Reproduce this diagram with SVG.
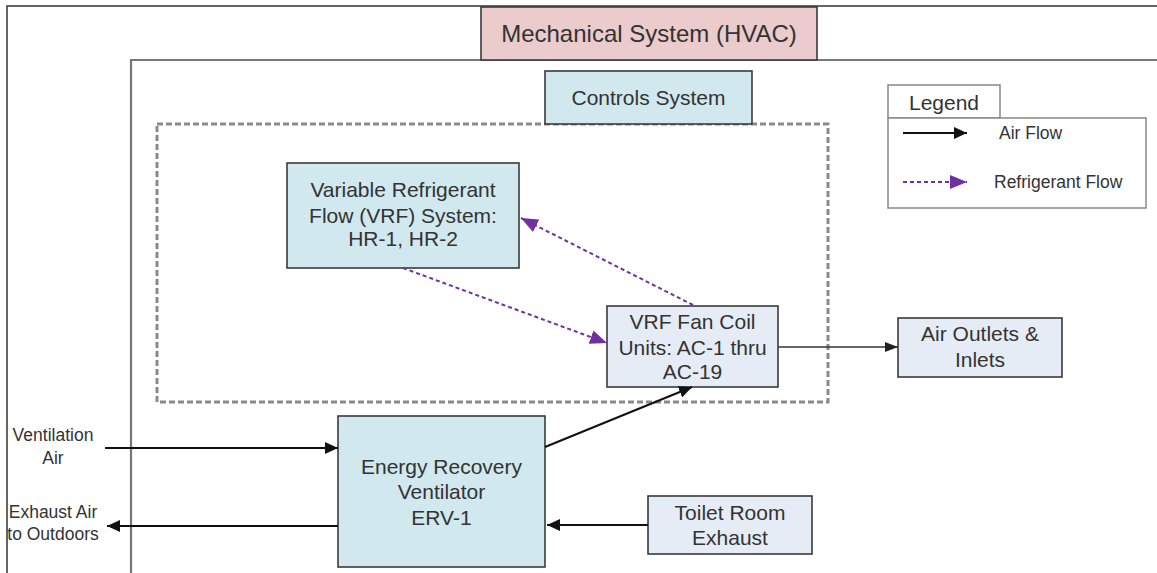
<svg xmlns="http://www.w3.org/2000/svg" width="1157" height="573" viewBox="0 0 1157 573">
<style>
text{font-family:"Liberation Sans",Arial,sans-serif;fill:#333;}
.t21{font-size:21px;text-anchor:middle;}
.t24{font-size:24px;text-anchor:middle;}
.t17{font-size:17.5px;text-anchor:middle;}
.box{stroke:#3a3a3a;stroke-width:1.6;}
.cyan{fill:#D0E8EE;}
.lav{fill:#E6ECF6;}
.pink{fill:#EBCBCB;}
.air{stroke:#111;stroke-width:2;fill:none;}
.ref{stroke:#7030A0;stroke-width:2;stroke-dasharray:4 3;fill:none;}
</style>
<defs>
<marker id="ah" markerUnits="userSpaceOnUse" markerWidth="14" markerHeight="12" refX="13" refY="6" orient="auto"><path d="M0,0 L13,6 L0,12 Z" fill="#111"/></marker>
<marker id="ahs" markerUnits="userSpaceOnUse" markerWidth="14" markerHeight="12" refX="13" refY="6" orient="auto"><path d="M0,1 L13,6 L0,11 Z" fill="#222"/></marker>
<marker id="ph" markerUnits="userSpaceOnUse" markerWidth="18" markerHeight="14" refX="17" refY="7" orient="auto"><path d="M0,0 L17,7 L0,14 Z" fill="#7030A0"/></marker>
</defs>
<rect width="1157" height="573" fill="#fff"/>
<g id="frames">
<path d="M7,573 V6 H1157" fill="none" stroke="#333" stroke-width="1.5"/>
<path d="M131,573 V60 H1157" fill="none" stroke="#777" stroke-width="2.2"/>
<rect x="157" y="124" width="671" height="278" fill="none" stroke="#8a8a8a" stroke-width="3" stroke-dasharray="6 3"/>
</g>
<g id="mechanical"><rect class="box pink" x="481" y="7" width="336" height="53"/><text class="t24" x="649" y="42">Mechanical System (HVAC)</text></g>
<g id="controls"><rect class="box cyan" x="545" y="71" width="207" height="53"/><text class="t21" x="648.5" y="104.5">Controls System</text></g>
<g id="vrf-system"><rect class="box cyan" x="287" y="163" width="232" height="105"/>
<text class="t21" x="403" y="196.5">Variable Refrigerant</text><text class="t21" x="403" y="222.5">Flow (VRF) System:</text><text class="t21" x="403" y="245.5">HR-1, HR-2</text></g>
<g id="fan-coil"><rect class="box lav" x="607" y="306" width="171" height="81"/>
<text class="t21" x="692.5" y="328.5">VRF Fan Coil</text><text class="t21" x="692.5" y="354.5">Units: AC-1 thru</text><text class="t21" x="692.5" y="378.5">AC-19</text></g>
<g id="air-outlets"><rect class="box lav" x="898" y="318" width="164" height="59"/>
<text class="t21" x="980" y="340.5">Air Outlets &amp;</text><text class="t21" x="980" y="366.5">Inlets</text></g>
<g id="erv"><rect class="box cyan" x="338" y="416" width="207" height="151"/>
<text class="t21" x="441.5" y="473.5">Energy Recovery</text><text class="t21" x="441.5" y="498.5">Ventilator</text><text class="t21" x="441.5" y="524.5">ERV-1</text></g>
<g id="toilet"><rect class="box lav" x="648" y="496" width="164" height="58"/>
<text class="t21" x="730" y="519.5">Toilet Room</text><text class="t21" x="730" y="544.5">Exhaust</text></g>
<g id="ventilation-air"><text class="t17" x="53" y="441.3">Ventilation</text><text class="t17" x="53" y="464.3">Air</text></g>
<g id="exhaust-air"><text class="t17" x="53" y="518.3">Exhaust Air</text><text class="t17" x="53" y="540.3">to Outdoors</text></g>
<g id="legend">
<rect x="888" y="85" width="112" height="33" fill="#fff" stroke="#888" stroke-width="1.5"/>
<rect x="888" y="118" width="258" height="90" fill="#fff" stroke="#888" stroke-width="1.5"/>
<text class="t21" x="944" y="109.5">Legend</text>
<line class="air" x1="903" y1="133" x2="967" y2="133" marker-end="url(#ah)"/>
<text x="999" y="139.3" font-size="17.5">Air Flow</text>
<line class="ref" x1="903" y1="182" x2="967" y2="182" marker-end="url(#ph)"/>
<text x="994" y="188.3" font-size="17.5">Refrigerant Flow</text>
</g>
<g id="connectors">
<line class="ref" x1="693" y1="305" x2="521" y2="218" marker-end="url(#ph)"/>
<line class="ref" x1="403" y1="268" x2="607" y2="343" marker-end="url(#ph)"/>
<line x1="778" y1="347" x2="898" y2="347" stroke="#333" stroke-width="1.5" marker-end="url(#ahs)"/>
<line class="air" x1="545" y1="447" x2="692" y2="387" marker-end="url(#ah)"/>
<line class="air" x1="105" y1="448" x2="338" y2="448" marker-end="url(#ah)"/>
<line class="air" x1="338" y1="526" x2="107" y2="526" marker-end="url(#ah)"/>
<line class="air" x1="648" y1="525" x2="547" y2="525" marker-end="url(#ah)"/>
</g>
</svg>
